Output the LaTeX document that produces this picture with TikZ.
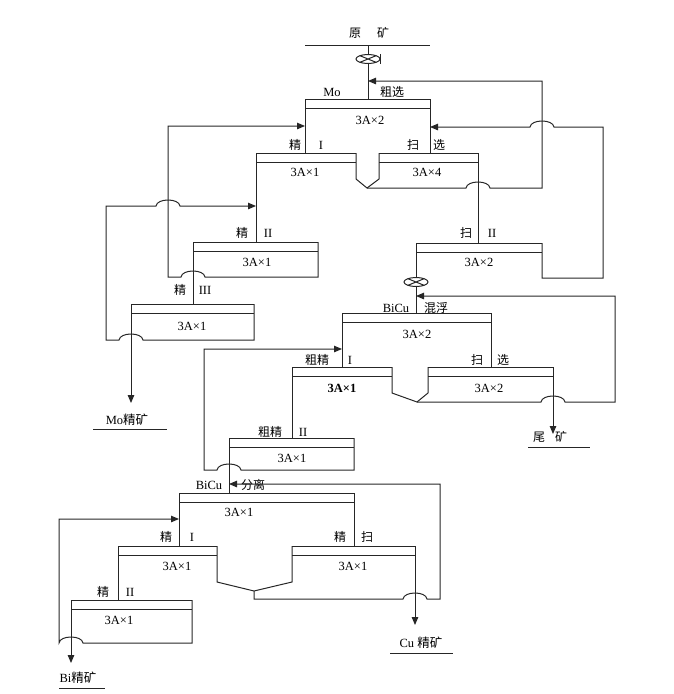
\documentclass[tikz,border=0pt]{standalone}
\usepackage{fontspec}
\setmainfont{Liberation Serif}
\newfontfamily\cjk{Noto Sans CJK SC}
\usetikzlibrary{arrows.meta}
\tikzset{
    flow/.style = {draw=black!85, line width=1pt},
    feed/.style = {flow, -{Triangle[length=8pt,width=6.5pt]}},
    cell-text/.style = {font=\fontsize{12.5}{14}\selectfont, inner sep=0pt},
    cn-text/.style = {font=\cjk\fontsize{12}{14}\selectfont, inner sep=0pt},
    valve/.pic = {
        \draw[flow] (0,0) ellipse [x radius=12, y radius=4.5];
        \draw[flow] (-8,-3.3) -- (8,3.3) (-8,3.3) -- (8,-3.3);
    },
}
% line hops, going right (hopr) or left (hopl)
\newcommand\hopr[2]{-- ({#1-12},#2) .. controls ({#1-11},{#2-8}) and ({#1+11},{#2-8}) .. ({#1+12},#2)}
\newcommand\hopl[2]{-- ({#1+12},#2) .. controls ({#1+11},{#2-8}) and ({#1-11},{#2-8}) .. ({#1-12},#2)}
% cell: top line and froth line
\newcommand\cell[3]{\draw[flow] (#1,#3) -- (#2,#3) (#1,{#3+9}) -- (#2,{#3+9});}

\begin{document}
\begin{tikzpicture}[x=1pt, y=-1pt]
\useasboundingbox (0,0) rectangle (673,694);

% Mo rougher and scavengers
\draw[flow] (305,45) -- (430,45);
\node[cn-text] (ore-a) at (355,33) {原};
\node[cn-text] (ore-b) at (383,33) {矿};
\draw[flow] (368,45) -- (368,54.5) (368,63.5) -- (368,99);
\pic at (368,59) {valve};
\draw[flow] (380,54) -- (380,64);
\cell{305}{430}{99}
\draw[flow] (305,99) -- (305,153);
\draw[flow] (430,99) -- (430,153);
\node[cell-text] (mo) at (332,92) {Mo};
\node[cn-text] (mo-ro) at (392,92) {粗选};
\node[cell-text] (mo-ro-n) at (370,120) {3A×2};
\cell{256}{356}{153}
\cell{379}{478}{153}
\draw[flow] (356,153) -- (356,179) -- (367,188) -- (379,179) -- (379,153);
\draw[feed] (367,188) \hopr{478}{188} -- (542,188) -- (542,81) -- (368,81);
\node[cn-text] (cl1-a) at (295,145) {精};
\node[cell-text] (cl1-b) at (321,145) {I};
\node[cn-text] (sc1-a) at (413,145) {扫};
\node[cn-text] (sc1-b) at (439,145) {选};
\node[cell-text] (cl1-n) at (305,172) {3A×1};
\node[cell-text] (sc1-n) at (427,172) {3A×4};
\draw[flow] (478,153) -- (478,243);
\cell{416}{542}{243}
\draw[feed] (542,243) -- (542,278) -- (603,278) -- (603,127) \hopl{542}{127} -- (430,127);
\node[cn-text] (sc2-a) at (466,233) {扫};
\node[cell-text] (sc2-b) at (492,233) {II};
\node[cell-text] (sc2-n) at (479,262) {3A×2};

% Mo cleaners
\draw[flow] (256,153) -- (256,242);
\cell{193}{318}{242}
\draw[feed] (318,242) -- (318,277) \hopl{193}{277} -- (168,277) -- (168,126) -- (305,126);
\node[cn-text] (cl2-a) at (242,233) {精};
\node[cell-text] (cl2-b) at (268,233) {II};
\node[cell-text] (cl2-n) at (257,262) {3A×1};
\draw[flow] (193,242) -- (193,304);
\cell{131}{254}{304}
\draw[feed] (254,304) -- (254,340) \hopl{131}{340} -- (106,340) -- (106,206) \hopr{168}{206} -- (256,206);
\node[cn-text] (cl3-a) at (180,290) {精};
\node[cell-text] (cl3-b) at (205,290) {III};
\node[cell-text] (cl3-n) at (192,326) {3A×1};
\draw[feed] (131,304) -- (131,403);
\node[cell-text] (mo-con) at (127,420) {Mo{\cjk 精矿}};
\draw[flow] (93,429) -- (167,429);

% BiCu bulk flotation
\draw[flow] (416,243) -- (416,277.5) (416,286.5) -- (416,313);
\pic at (416,282) {valve};
\cell{342}{491}{313}
\draw[flow] (342,313) -- (342,367);
\draw[flow] (491,313) -- (491,367);
\node[cell-text] (bicu) at (396,308) {BiCu};
\node[cn-text] (bicu-ro) at (436,308) {混浮};
\node[cell-text] (bicu-ro-n) at (417,334) {3A×2};
\cell{292}{392}{367}
\cell{428}{553}{367}
\draw[flow] (392,367) -- (392,393) -- (417,402) -- (428,393) -- (428,367);
\draw[feed] (417,402) \hopr{553}{402} -- (615,402) -- (615,296) -- (416,296);
\node[cn-text] (bc1-a) at (317,360) {粗精};
\node[cell-text] (bc1-b) at (350,360) {I};
\node[cn-text] (bs-a) at (477,360) {扫};
\node[cn-text] (bs-b) at (503,360) {选};
\node[cell-text, font=\fontsize{12.5}{14}\selectfont\bfseries] (bc1-n) at (342,388) {3A×1};
\node[cell-text] (bs-n) at (489,388) {3A×2};
\draw[feed] (553,367) -- (553,434);
\node[cn-text] (tail-a) at (539,437) {尾};
\node[cn-text] (tail-b) at (561,437) {矿};
\draw[flow] (528,447) -- (590,447);
\draw[flow] (292,367) -- (292,438);
\cell{229}{354}{438}
\draw[feed] (354,438) -- (354,470) \hopl{229}{470} -- (204,470) -- (204,349) -- (342,349);
\node[cn-text] (bc2-a) at (270,432) {粗精};
\node[cell-text] (bc2-b) at (303,432) {II};
\node[cell-text] (bc2-n) at (292,458) {3A×1};

% BiCu separation
\draw[flow] (229,438) -- (229,493);
\cell{179}{354}{493}
\draw[flow] (179,493) -- (179,546);
\draw[flow] (354,493) -- (354,546);
\node[cell-text] (sep) at (209,485) {BiCu};
\node[cn-text] (sep-ro) at (253,485) {分离};
\node[cell-text] (sep-n) at (239,512) {3A×1};
\cell{118}{217}{546}
\cell{292}{415}{546}
\draw[flow] (217,546) -- (217,582) -- (254,591) -- (292,582) -- (292,546);
\draw[feed] (254,591) -- (254,599) \hopr{415}{599} -- (440,599) -- (440,484) -- (229,484);
\node[cn-text] (bi1-a) at (166,537) {精};
\node[cell-text] (bi1-b) at (192,537) {I};
\node[cn-text] (cu-a) at (340,537) {精};
\node[cn-text] (cu-b) at (367,537) {扫};
\node[cell-text] (bi1-n) at (177,566) {3A×1};
\node[cell-text] (cu-n) at (353,566) {3A×1};
\draw[feed] (415,546) -- (415,625);
\node[cell-text] (cu-con) at (421,643) {Cu {\cjk 精矿}};
\draw[flow] (390,653) -- (453,653);
\draw[flow] (118,546) -- (118,600);
\cell{71}{192}{600}
\draw[feed] (192,600) -- (192,643) \hopl{71}{643} -- (59,519) -- (179,519);
\node[cn-text] (bi2-a) at (103,592) {精};
\node[cell-text] (bi2-b) at (130,592) {II};
\node[cell-text] (bi2-n) at (119,620) {3A×1};
\draw[feed] (71,600) -- (71,663);
\node[cell-text] (bi-con) at (78,678) {Bi{\cjk 精矿}};
\draw[flow] (59,688) -- (105,688);
\end{tikzpicture}
\end{document}
